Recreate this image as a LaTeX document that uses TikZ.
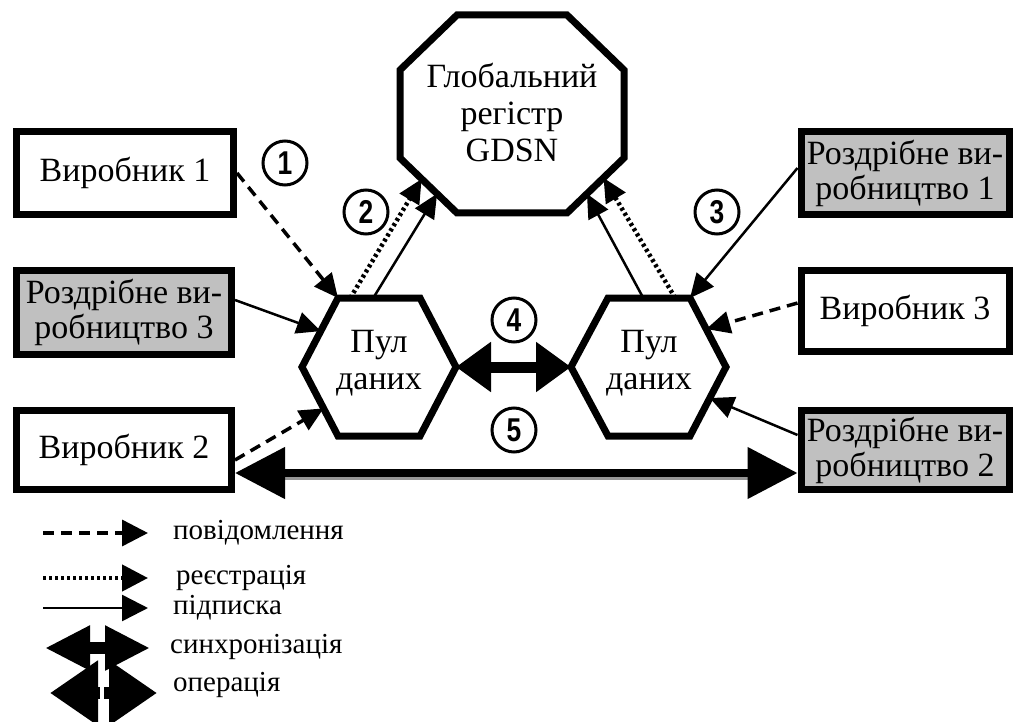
\documentclass[tikz,border=0pt]{standalone}
\usepackage{fontspec}
\setmainfont{Liberation Serif}
\newfontfamily\numfont[FakeStretch=0.8]{Liberation Sans}
\usetikzlibrary{arrows.meta,calc}
\definecolor{boxgray}{RGB}{192,192,192}
\definecolor{shadowgray}{RGB}{150,150,150}
\tikzset{
  box/.style={draw,line width=7pt,inner sep=0pt,align=center,
    font=\fontsize{34}{35}\selectfont},
  grayfill/.style={fill=boxgray},
  shapeline/.style={line width=7pt,line join=miter},
  shapetext/.style={align=center,inner sep=0pt,font=\fontsize{34}{37}\selectfont},
  num/.style={draw,circle,line width=3pt,minimum size=44pt,inner sep=0pt,
    font=\numfont\bfseries\fontsize{33}{33}\selectfont},
  tip/.style={-{Triangle[length=24pt,width=22pt]}},
  subs/.style={tip,line width=2.5pt},
  msg/.style={tip,line width=3.5pt,dash pattern=on 11pt off 7pt},
  reg/.style={tip,line width=4.5pt,dash pattern=on 3pt off 3pt},
  legtext/.style={anchor=west,inner sep=0pt,font=\fontsize{29}{29}\selectfont},
}
\begin{document}
\begin{tikzpicture}[x=1pt,y=-1pt]
\useasboundingbox (0,0) rectangle (1017,722);

% ---------- octagon (global registry) ----------
\coordinate (o1) at (457,15);  \coordinate (o2) at (567,15);
\coordinate (o3) at (624,70);  \coordinate (o4) at (624,158);
\coordinate (o5) at (567,213); \coordinate (o6) at (457,213);
\coordinate (o7) at (400,158); \coordinate (o8) at (400,70);
\draw[shapeline,fill=white] (o1)--(o2)--(o3)--(o4)--(o5)--(o6)--(o7)--(o8)--cycle;
\node[shapetext] (glob) at (512,112) {Глобальний\\регістр\\GDSN};

% ---------- hexagons (data pools) ----------
\coordinate (hl1) at (338,298); \coordinate (hl2) at (420,298);
\coordinate (hl3) at (456,367); \coordinate (hl4) at (420,436);
\coordinate (hl5) at (338,436); \coordinate (hl6) at (302,367);
\draw[shapeline] (hl1)--(hl2)--(hl3)--(hl4)--(hl5)--(hl6)--cycle;
\node[shapetext] (poolL) at (379,363) {Пул\\даних};

\coordinate (hr1) at (608,298); \coordinate (hr2) at (690,298);
\coordinate (hr3) at (726,367); \coordinate (hr4) at (690,436);
\coordinate (hr5) at (608,436); \coordinate (hr6) at (571,367);
\draw[shapeline] (hr1)--(hr2)--(hr3)--(hr4)--(hr5)--(hr6)--cycle;
\node[shapetext] (poolR) at (649,363) {Пул\\даних};

% ---------- boxes ----------
\node[box,minimum width=217pt,minimum height=83pt] (v1) at (125,173) {Виробник 1};
\node[box,grayfill,minimum width=215pt,minimum height=84pt] (r3) at (124,312) {Роздрібне ви-\\робництво 3};
\node[box,minimum width=215pt,minimum height=79pt] (v2) at (124,450) {Виробник 2};
\node[box,grayfill,minimum width=208pt,minimum height=83pt] (r1) at (905,173) {Роздрібне ви-\\робництво 1};
\node[box,minimum width=208pt,minimum height=81pt] (v3) at (905,311) {Виробник 3};
\node[box,grayfill,minimum width=208pt,minimum height=79pt] (r2) at (905,450) {Роздрібне ви-\\робництво 2};

% ---------- connectors ----------
% left side
\draw[msg] (v1.east) -- (hl1);
\coordinate (hl6a) at ($(hl6)!0.52!(hl1)$);
\draw[subs] (r3.east |- 0,300) -- (hl6a);
\coordinate (hl5a) at ($(hl6)!0.6!(hl5)$);
\draw[msg] (v2.east |- 0,460) -- (hl5a);

% left pool to registry
\coordinate (hlta) at ($(hl1)!0.15!(hl2)$);
\coordinate (hltb) at ($(hl1)!0.43!(hl2)$);
\coordinate (oLa) at ($(o7)!0.38!(o6)$);
\coordinate (oLb) at ($(o7)!0.65!(o6)$);
\draw[reg] (hlta) -- (oLa);
\draw[subs] (hltb) -- (oLb);

% right pool to registry
\coordinate (hrta) at ($(hr1)!0.43!(hr2)$);
\coordinate (hrtb) at ($(hr1)!0.82!(hr2)$);
\coordinate (oRa) at ($(o5)!0.35!(o4)$);
\coordinate (oRb) at ($(o5)!0.64!(o4)$);
\draw[subs] (hrta) -- (oRa);
\draw[reg] (hrtb) -- (oRb);

% right side
\draw[subs] (r1.west |- 0,168) -- (hr2);
\coordinate (hr3a) at ($(hr2)!0.45!(hr3)$);
\draw[msg] (v3.west |- 0,303) -- (hr3a);
\coordinate (hr4a) at ($(hr3)!0.45!(hr4)$);
\draw[subs] (r2.west |- 0,435) -- (hr4a);

% synchronisation between pools
\draw[line width=11pt,{Triangle[length=35pt,width=48pt]}-{Triangle[length=35pt,width=48pt]}] (hl3) -- (hr6);

% operation between producer 2 and retail 2
\coordinate (opL) at (v2.east |- 0,473);
\coordinate (opR) at (r2.west |- 0,473);
\draw[shadowgray,line width=5pt] ($(opL)+(40,4)$) -- ($(opR)+(-40,4)$);
\draw[line width=8pt,{Triangle[length=50pt,width=50pt]}-{Triangle[length=50pt,width=50pt]}] (opL) -- (opR);

% ---------- numbers ----------
\node[num] (n1) at (285,163) {1};
\node[num] (n2) at (366,212) {2};
\node[num] (n3) at (717,212) {3};
\node[num] (n4) at (514,320) {4};
\node[num] (n5) at (514,430) {5};

% ---------- legend ----------
\coordinate (l1a) at (43,533);  \coordinate (l1b) at (148,533);
\coordinate (l2a) at (43,578);  \coordinate (l2b) at (148,578);
\coordinate (l3a) at (43,608);  \coordinate (l3b) at (148,608);
\coordinate (l4a) at (45,648);  \coordinate (l4b) at (150,648);
\coordinate (l5a) at (50,693);  \coordinate (l5b) at (157,693);
\draw[msg,-{Triangle[length=26pt,width=26pt]}] (l1a) -- (l1b);
\draw[reg,-{Triangle[length=26pt,width=26pt]}] (l2a) -- (l2b);
\draw[subs,-{Triangle[length=26pt,width=26pt]}] (l3a) -- (l3b);
\draw[line width=12pt,{Triangle[length=45pt,width=42pt]}-{Triangle[length=45pt,width=42pt]}] (l4a) -- (l4b);
\draw[line width=12pt,{Triangle[length=48pt,width=62pt]}-{Triangle[length=48pt,width=62pt]}] (l5a) -- (l5b);
\draw[white,line width=4pt] (102,668) -- (102,722);
\node[legtext] (t1) at (173,533) {повідомлення};
\node[legtext] (t2) at (176,578) {реєстрація};
\node[legtext] (t3) at (173,608) {підписка};
\node[legtext] (t4) at (170,647) {синхронізація};
\node[legtext] (t5) at (173,685) {операція};
\end{tikzpicture}
\end{document}
